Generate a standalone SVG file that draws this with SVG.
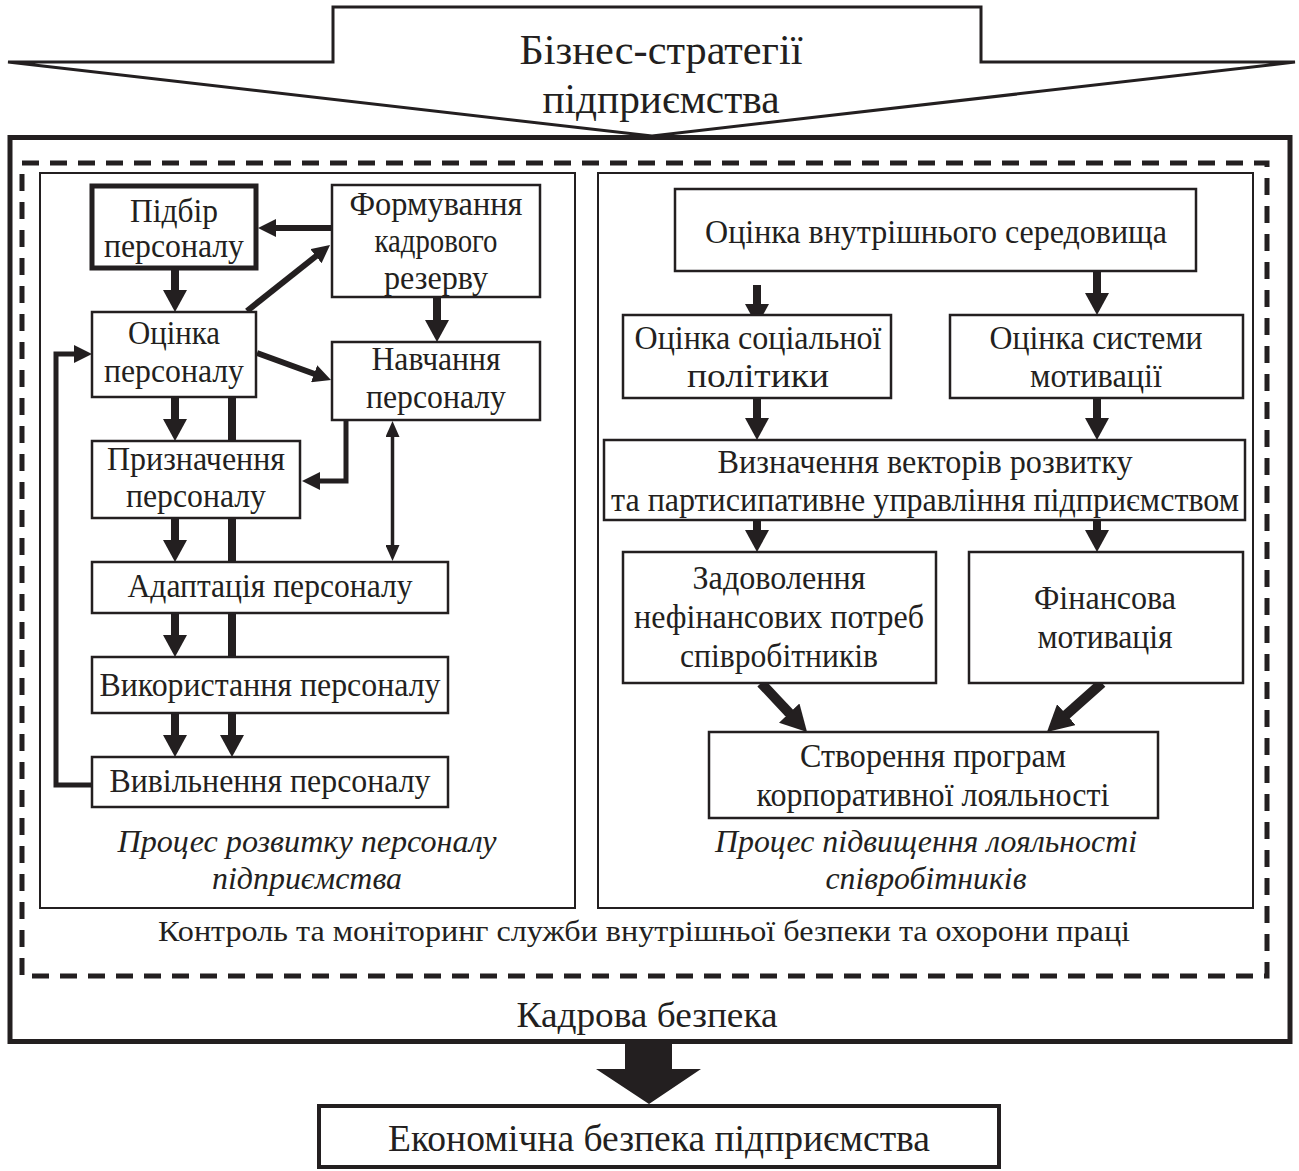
<svg xmlns="http://www.w3.org/2000/svg" width="1299" height="1171" viewBox="0 0 1299 1171">
<style>
text{font-family:"Liberation Serif","Times New Roman",serif;fill:#231f20;text-anchor:middle}
.t{font-size:34px}
.it{font-size:31px;font-style:italic}
.box{fill:#fff;stroke:#231f20;stroke-width:2.5}
.thick{fill:#fff;stroke:#231f20;stroke-width:5}
.panel{fill:none;stroke:#231f20;stroke-width:2}
.c{fill:none;stroke:#231f20;stroke-linejoin:miter}
.w8{stroke-width:8}
.w6{stroke-width:6}
.w5{stroke-width:5}
.w4{stroke-width:3.5}
.w10{stroke-width:10}
</style>
<defs>
<marker id="ah" markerUnits="userSpaceOnUse" viewBox="0 0 22 24" markerWidth="22" markerHeight="24" refX="2" refY="12" orient="auto"><path d="M0,0 L22,12 L0,24 z" fill="#231f20"/></marker>
<marker id="am" markerUnits="userSpaceOnUse" viewBox="0 0 18 18" markerWidth="18" markerHeight="18" refX="2" refY="9" orient="auto"><path d="M0,0 L18,9 L0,18 z" fill="#231f20"/></marker>
<marker id="as" markerUnits="userSpaceOnUse" viewBox="0 0 16 14" markerWidth="16" markerHeight="14" refX="2" refY="7" orient="auto-start-reverse"><path d="M0,0 L16,7 L0,14 z" fill="#231f20"/></marker>
<marker id="ax" markerUnits="userSpaceOnUse" viewBox="0 0 26 28" markerWidth="26" markerHeight="28" refX="2" refY="14" orient="auto"><path d="M0,0 L26,14 L0,28 z" fill="#231f20"/></marker>
</defs>

<g id="strategy">
<path d="M8,62 H333 V7 H981 V62 H1295 L652,136 Z" fill="#fff" stroke="#231f20" stroke-width="3" stroke-linejoin="miter"/>
<text x="661" y="64" style="font-size:42px" textLength="283" lengthAdjust="spacingAndGlyphs">Бізнес-стратегії</text>
<text x="661" y="113" style="font-size:42px" textLength="237" lengthAdjust="spacingAndGlyphs">підприємства</text>
</g>

<g id="frame">
<rect x="10" y="137.5" width="1280" height="904" fill="none" stroke="#231f20" stroke-width="5"/>
<text x="647" y="1027" style="font-size:36px" textLength="261" lengthAdjust="spacingAndGlyphs">Кадрова безпека</text>
</g>

<g id="control">
<rect x="22" y="163" width="1245" height="813" fill="none" stroke="#231f20" stroke-width="5" stroke-dasharray="17 11"/>
<text x="644" y="941" style="font-size:30px" textLength="972" lengthAdjust="spacingAndGlyphs">Контроль та моніторинг служби внутрішньої безпеки та охорони праці</text>
</g>

<g id="panel-left">
<rect class="panel" x="40" y="173" width="535" height="735"/>
<text class="it" x="307" y="852" textLength="379" lengthAdjust="spacingAndGlyphs">Процес розвитку персоналу</text>
<text class="it" x="307" y="889" textLength="190" lengthAdjust="spacingAndGlyphs">підприємства</text>
</g>

<g id="panel-right">
<rect class="panel" x="598" y="173" width="655" height="735"/>
<text class="it" x="926" y="852" textLength="422" lengthAdjust="spacingAndGlyphs">Процес підвищення лояльності</text>
<text class="it" x="926" y="889" textLength="201" lengthAdjust="spacingAndGlyphs">співробітників</text>
</g>

<g id="connectors">
<path class="c w8" d="M232,397 V737" marker-end="url(#ah)"/>
<path class="c w8" d="M175,270 V292" marker-end="url(#ah)"/>
<path class="c w8" d="M175,397 V421" marker-end="url(#ah)"/>
<path class="c w8" d="M175,518 V542" marker-end="url(#ah)"/>
<path class="c w8" d="M175,613 V637" marker-end="url(#ah)"/>
<path class="c w8" d="M175,713 V737" marker-end="url(#ah)"/>
<path class="c w8" d="M437,298 V322" marker-end="url(#ah)"/>
<path class="c w6" d="M332,228 H274" marker-end="url(#am)"/>
<path class="c w6" d="M247,311 L317.5,255" marker-end="url(#am)"/>
<path class="c w6" d="M257,353 L316,374.5" marker-end="url(#am)"/>
<path class="c w5" d="M346,421 V481 H318" marker-end="url(#am)"/>
<path class="c w4" d="M392.5,435 V547" marker-start="url(#as)" marker-end="url(#as)"/>
<path class="c w5" d="M92,785 H56 V354 H76" marker-end="url(#am)"/>
<path class="c w8" d="M757,285 V306" marker-end="url(#ah)"/>
<path class="c w8" d="M1097,272 V295" marker-end="url(#ah)"/>
<path class="c w8" d="M757,398 V420" marker-end="url(#ah)"/>
<path class="c w8" d="M1097,398 V420" marker-end="url(#ah)"/>
<path class="c w8" d="M757,520 V532" marker-end="url(#ah)"/>
<path class="c w8" d="M1097,520 V532" marker-end="url(#ah)"/>
<path class="c w10" d="M761,683 L790.6,714.5" marker-end="url(#ax)"/>
<path class="c w10" d="M1102,683 L1064.9,716" marker-end="url(#ax)"/>
<path d="M625,1042 H672 V1069 H701 L649,1104 L596,1069 H625 Z" fill="#231f20"/>
</g>

<g id="pidbir">
<rect class="thick" x="92" y="186" width="164" height="82"/>
<text class="t" x="174" y="222" textLength="88" lengthAdjust="spacingAndGlyphs">Підбір</text>
<text class="t" x="174" y="257" textLength="140" lengthAdjust="spacingAndGlyphs">персоналу</text>
</g>
<g id="formuvannia">
<rect class="box" x="332" y="185" width="208" height="112"/>
<text class="t" x="436" y="215" textLength="173" lengthAdjust="spacingAndGlyphs">Формування</text>
<text class="t" x="436" y="252" textLength="123" lengthAdjust="spacingAndGlyphs">кадрового</text>
<text class="t" x="436" y="289" textLength="104" lengthAdjust="spacingAndGlyphs">резерву</text>
</g>
<g id="otsinka">
<rect class="box" x="92" y="312" width="164" height="85"/>
<text class="t" x="174" y="344" textLength="92" lengthAdjust="spacingAndGlyphs">Оцінка</text>
<text class="t" x="174" y="382" textLength="140" lengthAdjust="spacingAndGlyphs">персоналу</text>
</g>
<g id="navchannia">
<rect class="box" x="332" y="342" width="208" height="78"/>
<text class="t" x="436" y="370" textLength="129" lengthAdjust="spacingAndGlyphs">Навчання</text>
<text class="t" x="436" y="408" textLength="140" lengthAdjust="spacingAndGlyphs">персоналу</text>
</g>
<g id="pryznachennia">
<rect class="box" x="92" y="441" width="208" height="77"/>
<text class="t" x="196" y="470" textLength="178" lengthAdjust="spacingAndGlyphs">Призначення</text>
<text class="t" x="196" y="507" textLength="140" lengthAdjust="spacingAndGlyphs">персоналу</text>
</g>
<g id="adaptatsiia">
<rect class="box" x="92" y="562" width="356" height="51"/>
<text class="t" x="270" y="597" textLength="285" lengthAdjust="spacingAndGlyphs">Адаптація персоналу</text>
</g>
<g id="vykorystannia">
<rect class="box" x="92" y="657" width="356" height="56"/>
<text class="t" x="270" y="696" textLength="341" lengthAdjust="spacingAndGlyphs">Використання персоналу</text>
</g>
<g id="vyvilnennia">
<rect class="box" x="92" y="757" width="356" height="50"/>
<text class="t" x="270" y="792" textLength="321" lengthAdjust="spacingAndGlyphs">Вивільнення персоналу</text>
</g>

<g id="otsinka-seredovyshcha">
<rect class="box" x="675" y="189" width="521" height="82"/>
<text class="t" x="936" y="243" textLength="462" lengthAdjust="spacingAndGlyphs">Оцінка внутрішнього середовища</text>
</g>
<g id="otsinka-sotsialnoi">
<rect class="box" x="623" y="315" width="268" height="83"/>
<text class="t" x="758" y="349" textLength="247" lengthAdjust="spacingAndGlyphs">Оцінка соціальної</text>
<text class="t" x="758" y="387" textLength="142" lengthAdjust="spacingAndGlyphs">політики</text>
</g>
<g id="otsinka-motyvatsii">
<rect class="box" x="950" y="315" width="293" height="83"/>
<text class="t" x="1096" y="349" textLength="213" lengthAdjust="spacingAndGlyphs">Оцінка системи</text>
<text class="t" x="1096" y="387" textLength="132" lengthAdjust="spacingAndGlyphs">мотивації</text>
</g>
<g id="vyznachennia">
<rect class="box" x="604" y="440" width="641" height="80"/>
<text class="t" x="925" y="473" textLength="415" lengthAdjust="spacingAndGlyphs">Визначення векторів розвитку</text>
<text class="t" x="925" y="511" textLength="628" lengthAdjust="spacingAndGlyphs">та партисипативне управління підприємством</text>
</g>
<g id="zadovolennia">
<rect class="box" x="623" y="552" width="313" height="131"/>
<text class="t" x="779" y="589" textLength="173" lengthAdjust="spacingAndGlyphs">Задоволення</text>
<text class="t" x="779" y="628" textLength="290" lengthAdjust="spacingAndGlyphs">нефінансових потреб</text>
<text class="t" x="779" y="667" textLength="198" lengthAdjust="spacingAndGlyphs">співробітників</text>
</g>
<g id="finansova">
<rect class="box" x="969" y="552" width="274" height="131"/>
<text class="t" x="1105" y="609" textLength="142" lengthAdjust="spacingAndGlyphs">Фінансова</text>
<text class="t" x="1105" y="648" textLength="135" lengthAdjust="spacingAndGlyphs">мотивація</text>
</g>
<g id="stvorennia">
<rect class="box" x="709" y="732" width="449" height="86"/>
<text class="t" x="933" y="767" textLength="266" lengthAdjust="spacingAndGlyphs">Створення програм</text>
<text class="t" x="933" y="806" textLength="353" lengthAdjust="spacingAndGlyphs">корпоративної лояльності</text>
</g>

<g id="ekonomichna">
<rect x="319" y="1106" width="680" height="61" fill="#fff" stroke="#231f20" stroke-width="4"/>
<text x="659" y="1151" style="font-size:38px" textLength="542" lengthAdjust="spacingAndGlyphs">Економічна безпека підприємства</text>
</g>
</svg>
